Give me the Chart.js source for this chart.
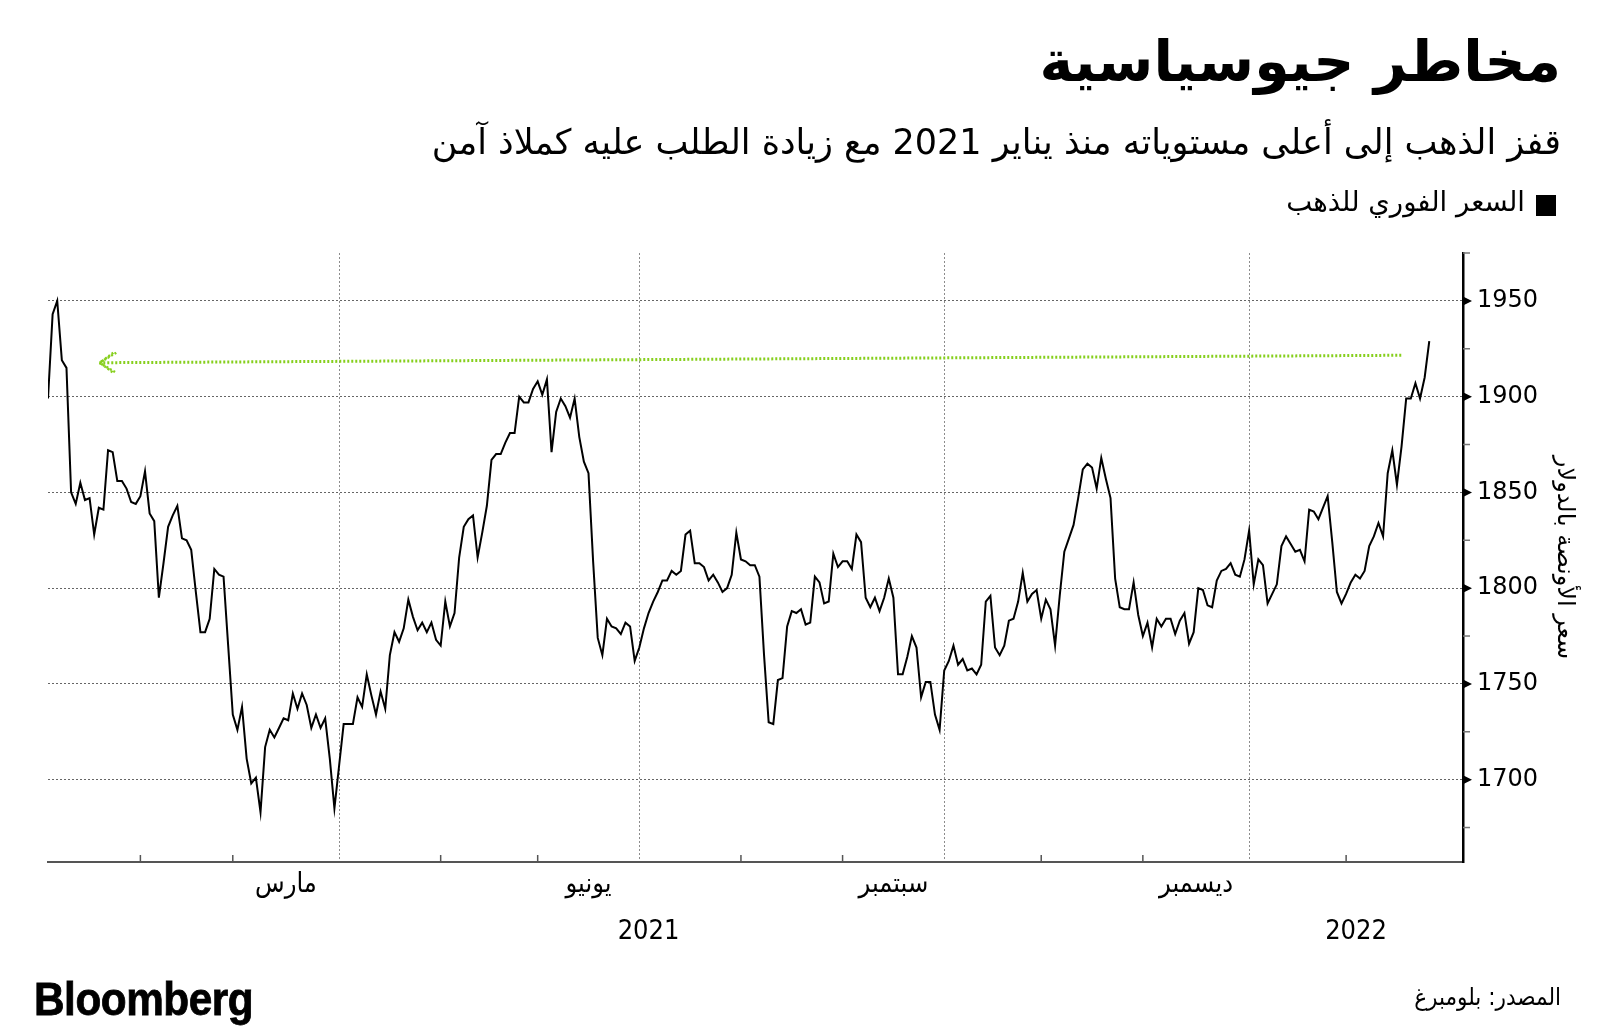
<!DOCTYPE html>
<html lang="ar">
<head>
<meta charset="utf-8">
<script src="https://cdn.jsdelivr.net/npm/chart.js@4.4.1/dist/chart.umd.min.js"></script>
<style>
html,body{margin:0;padding:0;background:#fff;}
#wrap{position:relative;width:1600px;height:1036px;overflow:hidden;background:#fff;}
#c{position:absolute;left:0;top:0;}
.t{position:absolute;direction:rtl;white-space:nowrap;color:#000;line-height:1;}
#title{right:39px;top:33px;font-weight:bold;font-size:57px;font-family:"DejaVu Sans",sans-serif;}
#sub{right:39px;top:125px;font-size:35px;font-family:"DejaVu Sans",sans-serif;}
#leg{right:75px;top:188px;font-size:27.5px;font-family:"DejaVu Sans",sans-serif;}
#legsq{position:absolute;left:1536px;top:195px;width:20px;height:21px;background:#000;}
#src{right:39px;top:985px;font-size:24px;font-family:"DejaVu Sans Condensed","DejaVu Sans",sans-serif;}
#logo{position:absolute;left:34px;top:976px;font-family:"Liberation Sans",Arial,sans-serif;font-weight:bold;font-size:46px;line-height:1;letter-spacing:-0.5px;color:#000;transform:scaleX(0.92);transform-origin:0 0;-webkit-text-stroke:0.8px #000;}
</style>
</head>
<body>
<div id="wrap">
<canvas id="c" width="1600" height="1036"></canvas>
<div class="t" id="title">مخاطر جيوسياسية</div>
<div class="t" id="sub">قفز الذهب إلى أعلى مستوياته منذ يناير 2021 مع زيادة الطلب عليه كملاذ آمن</div>
<div id="legsq"></div>
<div class="t" id="leg">السعر الفوري للذهب</div>
<div class="t" id="src">المصدر: بلومبرغ</div>
<div id="logo">Bloomberg</div>
</div>
<script>
// ---- Data (gold spot price, USD/oz, one value per trading day) ----
const firstTradingDay = '2021-01-04';
const prices = [
1899,1943,1950,1919,1915,1850,1844,1855,1846,1847,
1828,1842,1841,1872,1871,1856,1856,1852,1845,1844,
1848,1861,1839,1835,1795,1813,1832,1838,1843,1826,
1825,1820,1798,1777,1777,1784,1810,1807,1806,1770,
1734,1726,1738,1711,1698,1701,1683,1717,1726,1722,
1727,1732,1731,1745,1737,1745,1739,1727,1734,1727,
1732,1711,1685,1707,1729,1729,1729,1743,1738,1755,
1744,1734,1746,1737,1765,1777,1772,1779,1794,1785,
1778,1782,1777,1782,1773,1770,1793,1780,1787,1816,
1832,1836,1838,1816,1829,1843,1867,1870,1870,1876,
1881,1881,1900,1897,1897,1904,1908,1901,1909,1871,
1892,1899,1895,1889,1899,1879,1866,1860,1814,1774,
1765,1784,1780,1779,1776,1782,1780,1762,1769,1779,
1787,1793,1798,1804,1804,1809,1807,1809,1828,1830,
1813,1813,1811,1804,1807,1803,1798,1800,1807,1829,
1815,1814,1812,1812,1806,1765,1730,1729,1752,1753,
1780,1788,1787,1789,1781,1782,1806,1803,1792,1793,
1818,1811,1814,1814,1810,1828,1824,1795,1790,1795,
1788,1795,1805,1795,1755,1755,1764,1775,1769,1743,
1751,1751,1734,1726,1757,1762,1770,1760,1763,1757,
1758,1755,1760,1793,1796,1769,1765,1770,1783,1784,
1793,1808,1793,1797,1799,1784,1794,1789,1770,1796,
1819,1826,1833,1847,1862,1865,1863,1852,1868,1857,
1847,1805,1790,1789,1789,1803,1786,1775,1782,1769,
1784,1780,1784,1784,1776,1783,1787,1771,1777,1800,
1799,1791,1790,1804,1809,1810,1813,1807,1806,1815,
1830,1802,1815,1812,1792,1797,1802,1822,1827,1823,
1819,1820,1814,1841,1840,1836,1842,1848,1824,1798,
1792,1797,1803,1807,1805,1809,1822,1827,1834,1827,
1860,1872,1854,1874,1899,1899,1907,1899,1910,1929
];
// Annotation arrow (trading-day index, price)
const arrowX = [12.1, 294.1];
const arrowY = [1917.7, 1921.6];

// Axis definitions
const yTicks = [1700, 1750, 1800, 1850, 1900, 1950];
const yMinorTicks = [1675, 1725, 1775, 1825, 1875, 1925, 1975];
const yMin = 1657, yMax = 1975;
const quarterStarts = ['2021-04-01', '2021-07-01', '2021-10-01', '2022-01-01'];
const monthStarts = ['2021-02-01','2021-03-01','2021-05-01','2021-06-01','2021-08-01','2021-09-01','2021-11-01','2021-12-01','2022-02-01'];
const monthLabels = ['مارس', 'يونيو', 'سبتمبر', 'ديسمبر'];
const monthLabelFrom = ['2021-03-01', '2021-06-01', '2021-09-01', '2021-12-01'];
const monthLabelTo   = ['2021-04-01', '2021-07-01', '2021-10-01', '2022-01-01'];
const yearLabels = ['2021', '2022'];
const yearFrom = ['2021-01-01', '2022-01-01'];
const yearTo = ['2022-01-01', '2023-01-01'];
const xAxisEnd = '2022-03-08';
const yTitle = 'سعر الأونصة بالدولار';

// weekday (trading-day) index counted from 1 Jan 2021
function wd(dateStr){
  const start = Date.UTC(2021,0,1);
  const d = Date.parse(dateStr + 'T00:00:00Z');
  let n = 0;
  for (let t = start; t < d; t += 86400000){
    const w = new Date(t).getUTCDay();
    if (w !== 0 && w !== 6) n++;
  }
  return n;
}
const i0 = wd(firstTradingDay);
const lineData = prices.map((v, i) => ({x: i0 + i, y: v}));
const arrowData = arrowX.map((v, i) => ({x: v, y: arrowY[i]}));
const GREEN = '#86cf1c';

const decor = {
  id: 'decor',
  afterDraw(chart){
    const {ctx, chartArea: a, scales: {x, y}} = chart;
    ctx.save();
    // x minor ticks (month starts)
    ctx.strokeStyle = '#555'; ctx.lineWidth = 1.5;
    monthStarts.forEach(d => {
      const px = x.getPixelForValue(wd(d));
      ctx.beginPath(); ctx.moveTo(px, a.bottom); ctx.lineTo(px, a.bottom - 7); ctx.stroke();
    });
    // y minor ticks
    ctx.strokeStyle = '#777'; ctx.lineWidth = 1.5;
    yMinorTicks.forEach(v => {
      const py = y.getPixelForValue(v);
      ctx.beginPath(); ctx.moveTo(a.right, py); ctx.lineTo(a.right + 7, py); ctx.stroke();
    });
    // y major tick triangles
    ctx.fillStyle = '#000';
    yTicks.forEach(v => {
      const py = y.getPixelForValue(v);
      ctx.beginPath(); ctx.moveTo(a.right, py - 4.5); ctx.lineTo(a.right + 9, py); ctx.lineTo(a.right, py + 4.5); ctx.closePath(); ctx.fill();
    });
    // month labels
    ctx.fillStyle = '#000';
    ctx.font = '27px "DejaVu Sans Condensed", "DejaVu Sans"';
    ctx.textAlign = 'center'; ctx.textBaseline = 'middle';
    ctx.direction = 'rtl';
    monthLabels.forEach((m, i) => {
      const c = (wd(monthLabelFrom[i]) + wd(monthLabelTo[i])) / 2;
      ctx.fillText(m, x.getPixelForValue(c), a.bottom + 23);
    });
    ctx.direction = 'ltr';
    yearLabels.forEach((m, i) => {
      const lo = Math.max(x.min, wd(yearFrom[i]));
      const hi = Math.min(x.max, wd(yearTo[i]));
      ctx.fillText(m, x.getPixelForValue((lo + hi) / 2), a.bottom + 70);
    });
    // arrow head
    const tx = x.getPixelForValue(arrowX[0]), ty = y.getPixelForValue(arrowY[0]);
    ctx.strokeStyle = GREEN; ctx.lineWidth = 2.5; ctx.setLineDash([2, 2]);
    ctx.beginPath(); ctx.moveTo(tx + 17, ty - 10); ctx.lineTo(tx, ty); ctx.lineTo(tx + 17, ty + 10); ctx.stroke();
    ctx.beginPath(); ctx.moveTo(tx + 14, ty - 10); ctx.lineTo(tx + 2, ty - 1); ctx.moveTo(tx + 2, ty + 1); ctx.lineTo(tx + 14, ty + 10); ctx.stroke();
    ctx.restore();
  }
};

new Chart(document.getElementById('c'), {
  type: 'line',
  data: {
    datasets: [
      {data: lineData, borderColor: '#000', borderWidth: 2, pointRadius: 0, tension: 0, order: 1},
      {data: arrowData, borderColor: GREEN, borderWidth: 3, borderDash: [2, 2], pointRadius: 0, order: 2}
    ]
  },
  options: {
    responsive: false,
    animation: false,
    events: [],
    layout: {padding: {left: 48, top: 253, right: 0, bottom: 174}},
    plugins: {legend: {display: false}, tooltip: {enabled: false}},
    scales: {
      x: {
        type: 'linear',
        min: i0,
        max: wd(xAxisEnd) + 0.3,
        afterBuildTicks: s => { s.ticks = quarterStarts.map(d => ({value: wd(d)})); },
        afterFit: s => { s.height = 0; },
        ticks: {display: false},
        grid: {color: '#8c8c8c', lineWidth: 1, drawTicks: false},
        border: {display: true, color: '#555', width: 2, dash: [2, 2]}
      },
      y: {
        position: 'right',
        min: yMin,
        max: yMax,
        afterBuildTicks: s => { s.ticks = yTicks.map(v => ({value: v})); },
        afterFit: s => { s.width = 137; },
        ticks: {
          padding: 14,
          color: '#000',
          font: {family: '"DejaVu Sans"', size: 24},
          callback: v => String(v)
        },
        grid: {color: '#666', lineWidth: 1, drawTicks: false},
        border: {display: true, color: '#000', width: 2.5, dash: [2, 2]},
        title: {
          display: true,
          text: yTitle,
          color: '#000',
          font: {family: '"DejaVu Sans"', size: 24},
          padding: {top: 21, bottom: 0}
        }
      }
    }
  },
  plugins: [decor]
});
</script>
</body>
</html>
